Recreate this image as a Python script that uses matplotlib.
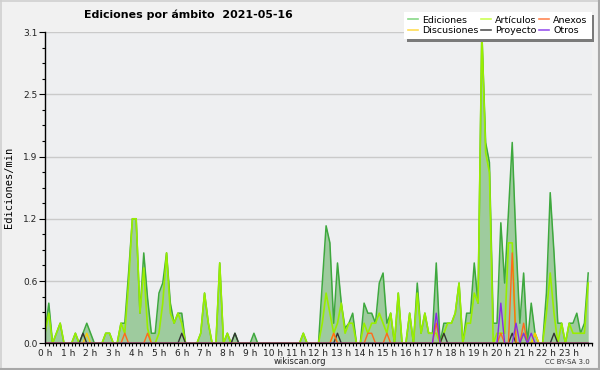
import matplotlib
matplotlib.use("Agg")
import matplotlib.pyplot as plt
import numpy as np
from matplotlib.lines import Line2D
from matplotlib.ticker import FixedLocator, MultipleLocator

# ---------------- data (10-minute slots, edits per minute) ----------------
hour_labels = [f"{h} h" for h in range(24)]

ediciones = [
    0.1, 0.4, 0, 0.1, 0.2, 0, 0, 0, 0.1, 0, 0.1, 0.2,
    0.1, 0, 0, 0, 0.1, 0.1, 0, 0, 0.2, 0.2, 0.7, 1.24,
    1.24, 0.3, 0.9, 0.45, 0.1, 0.1, 0.5, 0.6, 0.9, 0.4, 0.2, 0.3,
    0.3, 0, 0, 0, 0, 0.1, 0.5, 0.2, 0, 0, 0.8, 0,
    0.1, 0, 0.1, 0, 0, 0, 0, 0.1, 0, 0, 0, 0,
    0, 0, 0, 0, 0, 0, 0, 0, 0.1, 0, 0, 0,
    0, 0.6, 1.17, 1.0, 0.2, 0.8, 0.4, 0.15, 0.2, 0.3, 0, 0,
    0.4, 0.3, 0.3, 0.2, 0.6, 0.7, 0.2, 0.3, 0, 0.5, 0, 0,
    0.3, 0, 0.6, 0.1, 0.3, 0.1, 0.1, 0.8, 0, 0.2, 0.2, 0.2,
    0.3, 0.6, 0, 0.3, 0.3, 0.8, 0.4, 3.1, 2.0, 1.8, 0.2, 0.2,
    1.2, 0.6, 1.3, 2.0, 1.0, 0.2, 0.7, 0, 0.4, 0.1, 0, 0,
    0.5, 1.5, 0.9, 0.2, 0.2, 0, 0.2, 0.2, 0.3, 0.1, 0.2, 0.7,
]

articulos = [
    0.1, 0.3, 0, 0.1, 0.2, 0, 0, 0, 0.1, 0, 0, 0,
    0, 0, 0, 0, 0.1, 0.1, 0, 0, 0.2, 0.1, 0.6, 1.24,
    1.24, 0.3, 0.75, 0.15, 0, 0, 0.1, 0.4, 0.9, 0.3, 0.2, 0.3,
    0.2, 0, 0, 0, 0, 0.1, 0.5, 0.2, 0, 0, 0.8, 0,
    0.1, 0, 0, 0, 0, 0, 0, 0, 0, 0, 0, 0,
    0, 0, 0, 0, 0, 0, 0, 0, 0.1, 0, 0, 0,
    0, 0.2, 0.5, 0.3, 0.1, 0.2, 0.4, 0.1, 0.2, 0.2, 0, 0,
    0.2, 0.1, 0.2, 0.2, 0.3, 0.2, 0.1, 0.3, 0, 0.5, 0, 0,
    0.3, 0, 0.5, 0.1, 0.3, 0.1, 0.1, 0.1, 0, 0.1, 0.2, 0.2,
    0.3, 0.6, 0, 0.2, 0.2, 0.5, 0.4, 3.1, 1.9, 1.7, 0, 0.1,
    0.1, 0.1, 1.0, 1.0, 0, 0, 0.1, 0, 0, 0.1, 0, 0,
    0.3, 0.7, 0.3, 0, 0.2, 0, 0.2, 0.1, 0.1, 0.1, 0.1, 0.6,
]

# sparse series: (slot index, value)
discusiones_slots = [11, 76, 129]
discusiones_vals = [0.1, 0.1, 0.1]
proyecto_slots = [10, 36, 50, 77, 105, 123, 134]
proyecto_vals = [0.1, 0.1, 0.1, 0.1, 0.1, 0.1, 0.1]
anexos_slots = [21, 27, 76, 85, 86, 90, 103, 120, 123, 126]
anexos_vals = [0.1, 0.1, 0.1, 0.1, 0.1, 0.1, 0.2, 0.1, 0.9, 0.2]
otros_slots = [103, 120, 124, 126, 128]
otros_vals = [0.3, 0.4, 0.2, 0.1, 0.1]

n = len(ediciones)
t = np.arange(n) / 6.0  # hours


def dense(slots, vals):
    arr = np.zeros(n)
    arr[slots] = vals
    return arr


# ---------------- figure ----------------
fig = plt.figure(figsize=(6.0, 3.7), dpi=100, facecolor="#f1f1f1")
W, H = 600.0, 370.0
x0, x1 = 45.0, 592.0
ytop, ybot = 32.0, 343.3
ax = fig.add_axes([x0 / W, (H - ybot) / H, (x1 - x0) / W, (ybot - ytop) / H])
ax.set_facecolor("#eeeff1")

c_tot_fill = "#9ecb9e"
c_tot_line = "#3ea83e"
c_art = "#99ee00"
c_dis = "#ffcc00"
c_pro = "#333333"
c_anx = "#ff6a1a"
c_otr = "#8a2be2"

ax.fill_between(t, ediciones, 0, color=c_tot_fill, lw=0, zorder=2)
ax.plot(t, ediciones, color=c_tot_line, lw=1.1, zorder=3)
ax.plot(t, articulos, color=c_art, lw=1.2, zorder=4)
ax.plot(t, dense(discusiones_slots, discusiones_vals), color=c_dis, lw=1.0, zorder=5)
ax.plot(t, dense(proyecto_slots, proyecto_vals), color=c_pro, lw=1.0, zorder=5)
ax.plot(t, dense(anexos_slots, anexos_vals), color=c_anx, lw=1.0, zorder=6)
ax.plot(t, dense(otros_slots, otros_vals), color=c_otr, lw=1.0, zorder=7)

ax.set_xlim(0, 24)
ax.set_ylim(0, 3.1)

yt = [0, 0.62, 1.24, 1.86, 2.48, 3.1]
ax.yaxis.set_major_locator(FixedLocator(yt))
ax.set_yticklabels([f"{v:.1f}" for v in yt])
ax.yaxis.set_minor_locator(MultipleLocator(0.155))
ax.xaxis.set_major_locator(FixedLocator(list(range(24))))
ax.set_xticklabels(hour_labels)
ax.xaxis.set_minor_locator(MultipleLocator(1 / 6))

ax.tick_params(axis="both", which="both", direction="out", colors="black",
               labelsize=6.5, width=0.8)
ax.tick_params(axis="y", which="major", length=4.5, pad=1)
ax.tick_params(axis="y", which="minor", length=2.5)
ax.tick_params(axis="x", which="major", length=2.5, pad=1.5)
ax.tick_params(axis="x", which="minor", length=2.5)
for lab in ax.get_xticklabels() + ax.get_yticklabels():
    lab.set_color("#222222")

ax.yaxis.grid(True, which="major", color="#cacaca", lw=1.0, zorder=0)
ax.set_axisbelow(True)
for s in ("top", "right"):
    ax.spines[s].set_visible(False)
for s in ("left", "bottom"):
    ax.spines[s].set_color("black")
    ax.spines[s].set_linewidth(1.0)
    ax.spines[s].set_zorder(10)

ax.set_ylabel("Ediciones/min", family="DejaVu Sans Mono", fontsize=7.5)
ax.yaxis.set_label_coords(-0.057, 0.5)

fig.text(188 / W, 1 - 15 / H, "Ediciones por ámbito  2021-05-16",
         ha="center", va="center", fontsize=7.9, fontweight="bold")
fig.text(300 / W, 1 - 361 / H, "wikiscan.org", ha="center", va="center",
         fontsize=6.0, color="#222222")
fig.text(590 / W, 1 - 362 / H, "CC BY-SA 3.0", ha="right", va="center",
         fontsize=5, color="#333333")

# legend
handles = [
    Line2D([], [], color="#88d888", lw=1.2),   # Ediciones
    Line2D([], [], color="#ffdd55", lw=1.2),   # Discusiones
    Line2D([], [], color="#ccff55", lw=1.2),   # Artículos
    Line2D([], [], color="#555555", lw=1.2),   # Proyecto
    Line2D([], [], color="#ff8855", lw=1.2),   # Anexos
    Line2D([], [], color="#9955ee", lw=1.2),   # Otros
]
labels = ["Ediciones", "Discusiones", "Artículos", "Proyecto", "Anexos", "Otros"]
leg = fig.legend(handles, labels, ncol=3, loc="upper left",
                 bbox_to_anchor=(404 / W, 1 - 12 / H), borderaxespad=0,
                 fontsize=6.8, frameon=True, fancybox=False,
                 handlelength=1.1, handletextpad=0.45, columnspacing=0.2,
                 labelspacing=0.15, borderpad=0.4,
                 shadow={"facecolor": "#7a7a7a", "edgecolor": "#7a7a7a", "alpha": 1})
leg.get_frame().set_facecolor("white")
leg.get_frame().set_edgecolor("white")
leg.get_frame().set_linewidth(0)

# outer 3D border
fig.add_artist(Line2D([0.5 / W, 0.5 / W], [0, 1], color="#d0d0d0", lw=1.2))
fig.add_artist(Line2D([0, 1], [1 - 0.5 / H, 1 - 0.5 / H], color="#d0d0d0", lw=1.2))
fig.add_artist(Line2D([1 - 1 / W, 1 - 1 / W], [0, 1], color="#a8a8a8", lw=1.5))
fig.add_artist(Line2D([0, 1], [1 / H, 1 / H], color="#a8a8a8", lw=1.5))

fig.savefig("out.png", dpi=100, facecolor=fig.get_facecolor())
